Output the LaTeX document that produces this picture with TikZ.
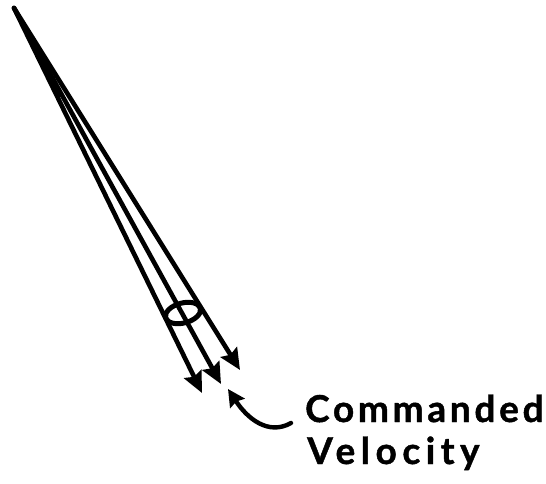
\documentclass[tikz,border=0pt]{standalone}
\usepackage{fontspec}
\setmainfont{Lato Bold}
\usetikzlibrary{arrows.meta,shapes.geometric}
\tikzset{
  ray/.style={line width=4.6pt,line cap=round,-{Stealth[length=21pt,width=19pt,inset=3pt]}},
  callout/.style={line width=4.4pt,line cap=round,-{Stealth[length=17pt,width=17pt,inset=2pt]}},
  hand/.style={inner sep=0pt,anchor=base west,font=\fontsize{37pt}{37pt}\selectfont},
  lens/.style={draw,line width=5pt,ellipse,inner sep=0pt,minimum width=36pt,minimum height=20pt,rotate=15}
}
\begin{document}
\begin{tikzpicture}[x=1pt,y=-1pt]
\useasboundingbox (0,0) rectangle (546,484);
\coordinate (apex) at (14,8);
\coordinate (tipL) at (202,393);
\coordinate (tipM) at (221,384);
\coordinate (tipR) at (240,370);
\coordinate (tail) at (291,423);
\coordinate (tipC) at (228,389);
\fill[line join=round,line width=3pt,draw] (apex) -- (46,62) -- (60,96) -- (apex) -- cycle;
\draw[ray] (apex) -- (tipL);
\draw[ray] (apex) -- (tipM);
\draw[ray] (apex) -- (tipR);
\node[lens] (lens) at (183,313) {};
\draw[callout] (tail) .. controls (268,436) and (247,418) .. (tipC);
\node[hand] (cmd) at (305,422) {\addfontfeature{LetterSpace=10,FakeBold=1.2}Commanded};
\node[hand] (vel) at (307,464) {\addfontfeature{LetterSpace=15,FakeBold=1.2}Velocity};
\end{tikzpicture}
\end{document}
